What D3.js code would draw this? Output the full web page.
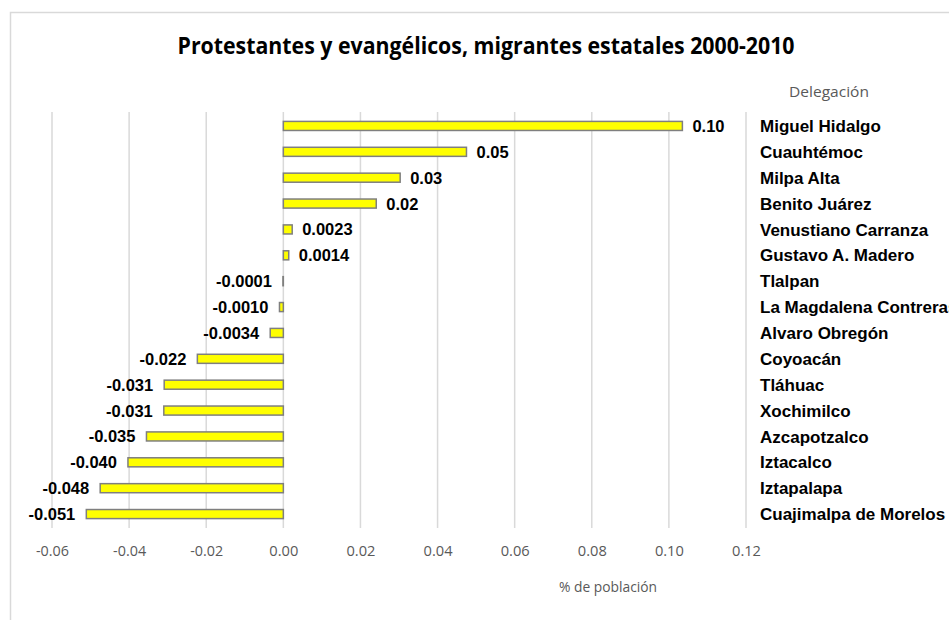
<!DOCTYPE html>
<style>
body { margin: 0; background: #fff; }
.tick line, .domain { display: none; }
</style>
<svg width="949" height="620"></svg>
<script src="https://d3js.org/d3.v7.min.js"></script>
<script>

var delegaciones = ["Miguel Hidalgo", "Cuauhtémoc", "Milpa Alta", "Benito Juárez", "Venustiano Carranza",
    "Gustavo A. Madero", "Tlalpan", "La Magdalena Contreras", "Alvaro Obregón", "Coyoacán", "Tláhuac",
    "Xochimilco", "Azcapotzalco", "Iztacalco", "Iztapalapa", "Cuajimalpa de Morelos"];
var valores = [0.1035, 0.0475, 0.0303, 0.0241, 0.0023, 0.0014, -0.0001, -0.0010, -0.0034,
    -0.0223, -0.0309, -0.0310, -0.0355, -0.0403, -0.0475, -0.0511];
var etiquetas = ["0.10", "0.05", "0.03", "0.02", "0.0023", "0.0014", "-0.0001", "-0.0010", "-0.0034",
    "-0.022", "-0.031", "-0.031", "-0.035", "-0.040", "-0.048", "-0.051"];
var ticks = [-0.06, -0.04, -0.02, 0, 0.02, 0.04, 0.06, 0.08, 0.10, 0.12];

var data = delegaciones.map(function(d, i) { return {name: d, value: valores[i], label: etiquetas[i]}; });

var svg = d3.select("svg");

// chart area border
svg.append("rect")
    .attr("x", 10.5).attr("y", 12.5)
    .attr("width", 960).attr("height", 640)
    .attr("fill", "#fff")
    .attr("stroke", "#d9d9d9")
    .attr("stroke-width", 1.5);

var x = d3.scaleLinear()
    .domain([-0.06, 0.12])
    .range([52, 746]);

var y = d3.scaleBand()
    .domain(delegaciones)
    .range([113, 527])
    .paddingInner(0.65)
    .paddingOuter(0.325);

svg.append("g")
    .selectAll("line")
    .data(ticks)
    .enter().append("line")
      .attr("x1", function(d) { return x(d); })
      .attr("x2", function(d) { return x(d); })
      .attr("y1", 112)
      .attr("y2", 528)
      .attr("stroke", "#d9d9d9")
      .attr("stroke-width", 1.5);

var fmt = d3.format(".2f");
svg.append("g")
    .attr("transform", "translate(0,543)")
    .call(d3.axisBottom(x).tickValues(ticks).tickSize(0)
      .tickFormat(function(d) { return fmt(d).replace("−", "-"); }))
    .call(function(g) {
      g.selectAll("text")
        .attr("fill", "#595959")
        .attr("font-family", "Open Sans")
        .attr("font-size", 14)
        .attr("textLength", function(d) { return d < 0 ? 33 : 29; })
        .attr("lengthAdjust", "spacingAndGlyphs");
    });

svg.append("g")
    .selectAll("rect")
    .data(data)
    .enter().append("rect")
      .attr("x", function(d) { return x(Math.min(0, d.value)); })
      .attr("y", function(d) { return y(d.name); })
      .attr("width", function(d) { return Math.abs(x(d.value) - x(0)); })
      .attr("height", y.bandwidth())
      .attr("fill", "#ffff00")
      .attr("stroke", "#7f7f7f")
      .attr("stroke-width", 1.5);

svg.append("g")
    .attr("font-family", "Liberation Sans, Arial, sans-serif")
    .attr("font-weight", "bold")
    .attr("font-size", 16.5)
    .selectAll("text")
    .data(data)
    .enter().append("text")
      .attr("x", function(d) { return d.value >= 0 ? x(d.value) + 10 : x(d.value) - 11; })
      .attr("y", function(d) { return y(d.name) + y.bandwidth() / 2; })
      .attr("dy", "0.36em")
      .attr("text-anchor", function(d) { return d.value >= 0 ? "start" : "end"; })
      .text(function(d) { return d.label; });

svg.append("g")
    .attr("font-family", "Liberation Sans, Arial, sans-serif")
    .attr("font-weight", "bold")
    .attr("font-size", 17)
    .selectAll("text")
    .data(data)
    .enter().append("text")
      .attr("x", 760)
      .attr("y", function(d) { return y(d.name) + y.bandwidth() / 2; })
      .attr("dy", "0.36em")
      .text(function(d) { return d.name; });

svg.append("text")
    .attr("x", 486)
    .attr("y", 54)
    .attr("text-anchor", "middle")
    .attr("font-family", "Open Sans")
    .attr("font-weight", "bold")
    .attr("font-size", 23)
    .attr("textLength", 617)
    .attr("lengthAdjust", "spacingAndGlyphs")
    .attr("fill", "#000")
    .text("Protestantes y evangélicos, migrantes estatales 2000-2010");

svg.append("text")
    .attr("x", 829)
    .attr("y", 97)
    .attr("text-anchor", "middle")
    .attr("font-family", "Open Sans")
    .attr("font-size", 14)
    .attr("textLength", 80)
    .attr("lengthAdjust", "spacingAndGlyphs")
    .attr("fill", "#595959")
    .text("Delegación");

svg.append("text")
    .attr("x", 608)
    .attr("y", 592)
    .attr("text-anchor", "middle")
    .attr("font-family", "Open Sans")
    .attr("font-size", 14)
    .attr("textLength", 98)
    .attr("lengthAdjust", "spacingAndGlyphs")
    .attr("fill", "#595959")
    .text("% de población");

</script>
